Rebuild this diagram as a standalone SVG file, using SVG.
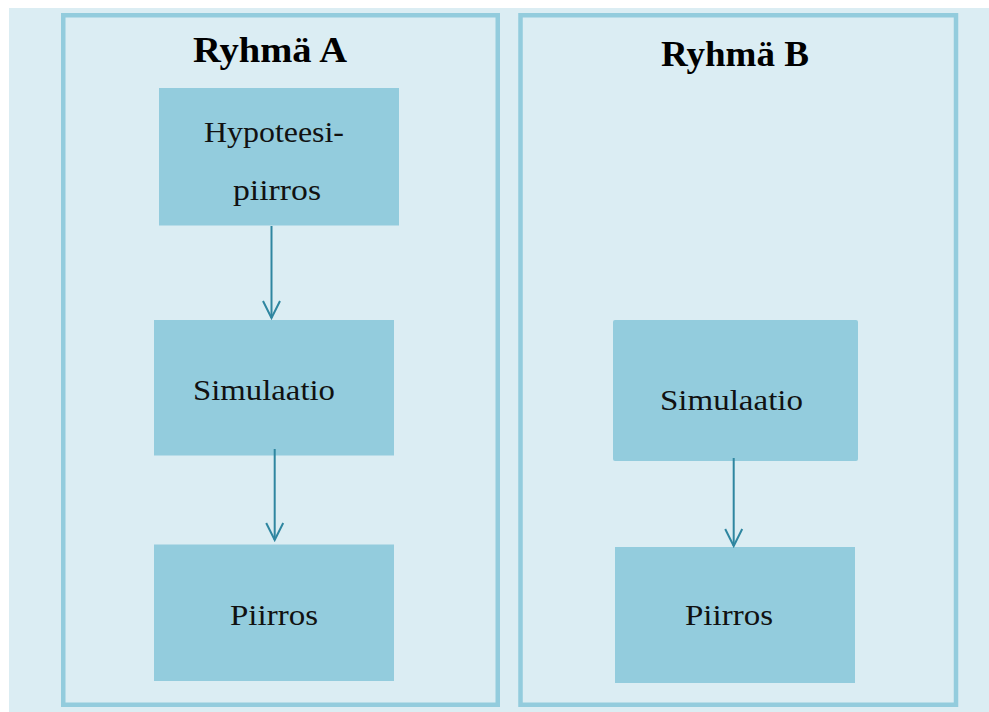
<svg xmlns="http://www.w3.org/2000/svg" width="989" height="712" viewBox="0 0 989 712">
  <style>
    .frame { fill: #DBEDF3; stroke: #93CCDD; stroke-width: 4.5; }
    .node { fill: #93CCDD; }
    .title { font-family: "Liberation Serif", serif; font-weight: bold; font-size: 36px; fill: #000; }
    .label { font-family: "Liberation Serif", serif; font-size: 29px; fill: #111; }
    .conn { stroke: #2F86A0; stroke-width: 2; fill: none; }
  </style>
  <defs>
    <!-- open V arrowhead, drawn pointing along +x -->
    <marker id="arrow" viewBox="0 0 20 20" refX="18" refY="10" markerWidth="20" markerHeight="20" markerUnits="userSpaceOnUse" orient="auto">
      <path d="M1,1.5 L18,10 L1,18.5" fill="none" stroke="#2F86A0" stroke-width="2"/>
    </marker>
  </defs>

  <!-- page background -->
  <rect x="9" y="8" width="980" height="704" fill="#DBEDF3"/>

  <!-- group frames -->
  <g id="group-a">
    <rect class="frame" x="63.25" y="15.25" width="434.5" height="689.5"/>
    <text class="title" x="193" y="62" textLength="154" lengthAdjust="spacingAndGlyphs">Ryhmä A</text>
  </g>
  <g id="group-b">
    <rect class="frame" x="520.5" y="15.25" width="435.5" height="689.5"/>
    <text class="title" x="661" y="66" textLength="148" lengthAdjust="spacingAndGlyphs">Ryhmä B</text>
  </g>

  <!-- nodes, group A -->
  <g id="a-hypoteesipiirros">
    <rect class="node" x="159" y="88" width="240" height="137.5"/>
    <text class="label" x="204" y="142" textLength="140" lengthAdjust="spacingAndGlyphs">Hypoteesi-</text>
    <text class="label" x="233" y="200" textLength="88" lengthAdjust="spacingAndGlyphs">piirros</text>
  </g>
  <g id="a-simulaatio">
    <rect class="node" x="154" y="320" width="240" height="135.5"/>
    <text class="label" x="193" y="400" textLength="142" lengthAdjust="spacingAndGlyphs">Simulaatio</text>
  </g>
  <g id="a-piirros">
    <rect class="node" x="154" y="544.5" width="240" height="136.5"/>
    <text class="label" x="230" y="625" textLength="88" lengthAdjust="spacingAndGlyphs">Piirros</text>
  </g>

  <!-- nodes, group B -->
  <g id="b-simulaatio">
    <rect class="node" x="613" y="320" width="245" height="141" rx="2"/>
    <text class="label" x="660" y="410" textLength="143" lengthAdjust="spacingAndGlyphs">Simulaatio</text>
  </g>
  <g id="b-piirros">
    <rect class="node" x="615" y="547" width="240" height="136"/>
    <text class="label" x="685" y="625" textLength="88" lengthAdjust="spacingAndGlyphs">Piirros</text>
  </g>

  <!-- connectors -->
  <g id="connectors">
    <line class="conn" x1="271.5" y1="226" x2="271.5" y2="318" marker-end="url(#arrow)"/>
    <line class="conn" x1="274.7" y1="449" x2="274.7" y2="540" marker-end="url(#arrow)"/>
    <line class="conn" x1="733.7" y1="458" x2="733.7" y2="546" marker-end="url(#arrow)"/>
  </g>
</svg>
